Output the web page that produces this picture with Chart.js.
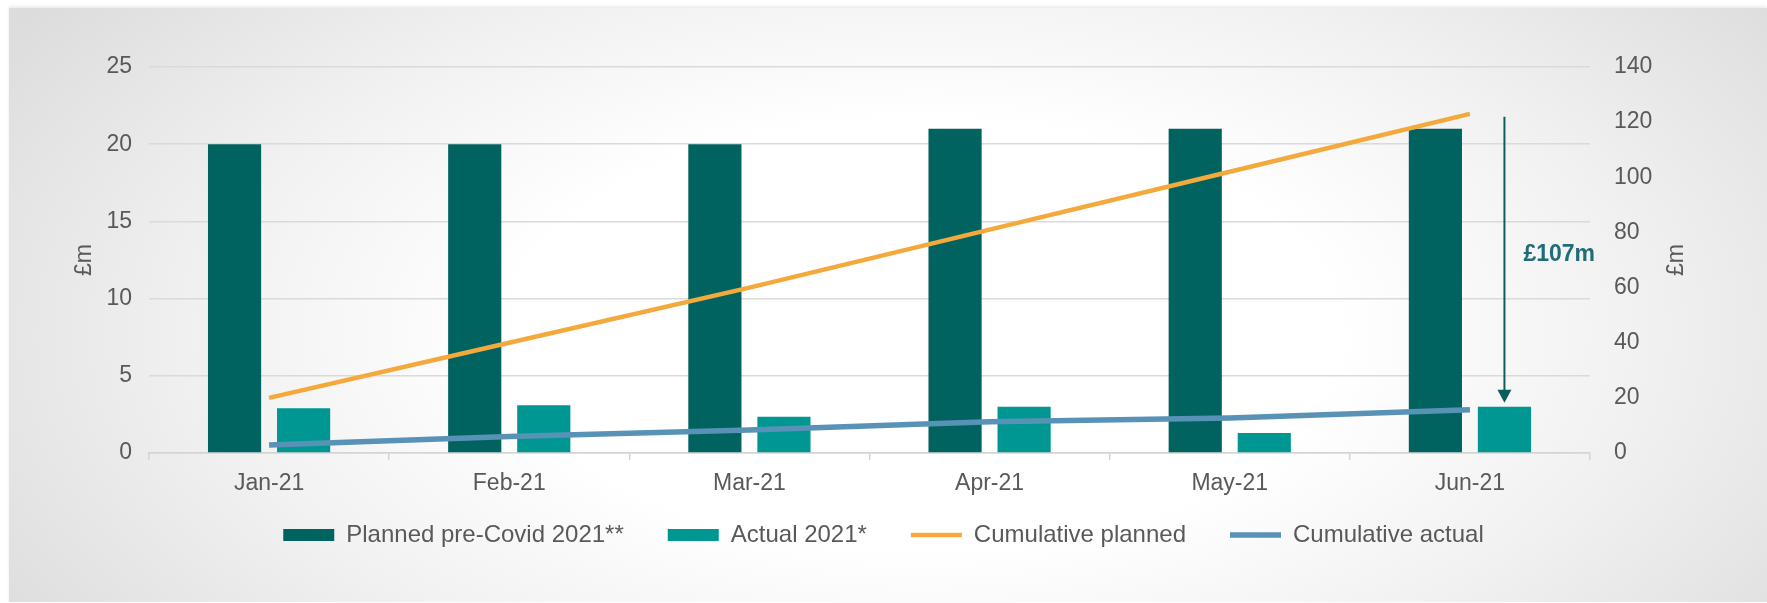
<!DOCTYPE html>
<html>
<head>
<meta charset="utf-8">
<script src="https://cdn.jsdelivr.net/npm/chart.js@4.4.1/dist/chart.umd.min.js"></script>
<style>
  html, body { margin: 0; padding: 0; background: #fff; }
  body { width: 1767px; height: 603px; position: relative; overflow: hidden; }
  .card {
    position: absolute; left: 9px; top: 8px; right: 0; bottom: 1px;
    background: radial-gradient(ellipse 62% 95% at 52% 55%, #ffffff 38%, #f1f1f1 66%, #dcdcdc 100%);
    box-shadow: 0 -2px 3px rgba(0, 0, 0, 0.08);
  }
  canvas { position: absolute; left: 0; top: 0; }
</style>
</head>
<body>
<div class="card"></div>
<canvas id="spendChart" width="1767" height="603"></canvas>
<script>
// Chart data
const months = ['Jan-21', 'Feb-21', 'Mar-21', 'Apr-21', 'May-21', 'Jun-21'];
const plannedPreCovid = [20, 20, 20, 21, 21, 21];
const actual2021 = [2.9, 3.1, 2.35, 3.0, 1.3, 3.0];
const cumulativePlanned = [20, 40, 60, 81, 102, 123];
const cumulativeActual = [2.9, 6.0, 8.35, 11.35, 12.65, 15.65];
const leftAxisTicks = [0, 5, 10, 15, 20, 25];
const rightAxisTicks = [0, 20, 40, 60, 80, 100, 120, 140];

const textColor = '#595959';
const fontFamily = '"Liberation Sans", Arial, sans-serif';

// Arrow showing the gap between cumulative planned and actual, plus right axis title
const gapArrow = {
    id: 'gapArrow',
    afterLayout(chart) {
        // pull the legend row up a little, closer to the month labels
        if (chart.legend) {
            chart.legend.top -= 19;
            chart.legend.bottom -= 19;
        }
    },
    afterDatasetsDraw(chart) {
        const { ctx, chartArea, scales } = chart;
        const last = months.length - 1;
        const bar = chart.getDatasetMeta(1).data[last];
        const x = bar.x;
        const yTop = scales.y2.getPixelForValue(cumulativePlanned[last]) + 3;
        const yTip = bar.y - 4;

        ctx.save();
        ctx.strokeStyle = '#0b5f5b';
        ctx.fillStyle = '#0b5f5b';
        ctx.lineWidth = 2;
        ctx.beginPath();
        ctx.moveTo(x, yTop);
        ctx.lineTo(x, yTip - 12);
        ctx.stroke();
        ctx.beginPath();
        ctx.moveTo(x - 7, yTip - 13);
        ctx.lineTo(x + 7, yTip - 13);
        ctx.lineTo(x, yTip);
        ctx.closePath();
        ctx.fill();

        const gap = Math.round(cumulativePlanned[last] - cumulativeActual[last]);
        ctx.fillStyle = '#1f6d78';
        ctx.font = 'bold 23px ' + fontFamily;
        ctx.textAlign = 'left';
        ctx.textBaseline = 'middle';
        ctx.fillText('£' + gap + 'm', x + 19, (yTop + yTip) / 2 - 5);

        // right axis title reads bottom-to-top like the left one
        ctx.fillStyle = textColor;
        ctx.font = '23px ' + fontFamily;
        ctx.textAlign = 'center';
        ctx.translate(chartArea.right + 87, (chartArea.top + chartArea.bottom) / 2);
        ctx.rotate(-Math.PI / 2);
        ctx.fillText('£m', 0, 0);
        ctx.restore();
    }
};

const legendStyle = {
    'Planned pre-Covid 2021**': 'rect',
    'Actual 2021*': 'rect',
    'Cumulative planned': 'line',
    'Cumulative actual': 'line'
};

new Chart(document.getElementById('spendChart'), {
    type: 'bar',
    data: {
        labels: months,
        datasets: [
            {
                label: 'Planned pre-Covid 2021**',
                data: plannedPreCovid,
                backgroundColor: '#00635f',
                yAxisID: 'y',
                order: 1,
                categoryPercentage: 0.575,
                barPercentage: 0.77
            },
            {
                label: 'Actual 2021*',
                data: actual2021,
                backgroundColor: '#009691',
                yAxisID: 'y',
                order: 1,
                categoryPercentage: 0.575,
                barPercentage: 0.77
            },
            {
                type: 'line',
                label: 'Cumulative planned',
                data: cumulativePlanned,
                borderColor: '#f3a93c',
                backgroundColor: '#f3a93c',
                borderWidth: 4.5,
                pointRadius: 0,
                pointHoverRadius: 0,
                yAxisID: 'y2',
                order: 0
            },
            {
                type: 'line',
                label: 'Cumulative actual',
                data: cumulativeActual,
                borderColor: '#5992b7',
                backgroundColor: '#5992b7',
                borderWidth: 5.5,
                pointRadius: 0,
                pointHoverRadius: 0,
                yAxisID: 'y2',
                order: 0
            }
        ]
    },
    options: {
        responsive: false,
        animation: false,
        devicePixelRatio: 1,
        layout: { padding: { top: 67, bottom: 27, left: 0, right: 0 } },
        scales: {
            x: {
                grid: {
                    display: true,
                    drawOnChartArea: false,
                    drawTicks: true,
                    tickLength: 7,
                    color: '#d4d4d4',
                    lineWidth: 1.5
                },
                border: { display: true, color: '#d4d4d4', width: 1.5 },
                ticks: {
                    color: textColor,
                    font: { size: 23, family: fontFamily },
                    padding: 10
                },
                afterFit(scale) { scale.height = 45; }
            },
            y: {
                position: 'left',
                min: leftAxisTicks[0],
                max: leftAxisTicks[leftAxisTicks.length - 1],
                ticks: {
                    stepSize: leftAxisTicks[1] - leftAxisTicks[0],
                    color: textColor,
                    font: { size: 23, family: fontFamily },
                    padding: 17
                },
                grid: { color: '#dadada', lineWidth: 1.5, drawTicks: false },
                border: { display: false },
                title: {
                    display: true,
                    text: '£m',
                    color: textColor,
                    font: { size: 23, family: fontFamily },
                    padding: { top: 71, bottom: 0 }
                },
                afterFit(scale) { scale.width = 149; }
            },
            y2: {
                position: 'right',
                min: rightAxisTicks[0],
                max: rightAxisTicks[rightAxisTicks.length - 1],
                ticks: {
                    stepSize: rightAxisTicks[1] - rightAxisTicks[0],
                    color: textColor,
                    font: { size: 23, family: fontFamily },
                    padding: 24
                },
                grid: { display: false, drawTicks: false },
                border: { display: false },
                afterFit(scale) { scale.width = 177; }
            }
        },
        plugins: {
            legend: {
                position: 'bottom',
                labels: {
                    usePointStyle: true,
                    pointStyleWidth: 51,
                    boxHeight: 12,
                    padding: 44,
                    color: textColor,
                    font: { size: 24, family: fontFamily },
                    sort: (a, b) => a.datasetIndex - b.datasetIndex,
                    generateLabels(chart) {
                        return chart.data.datasets.map((ds, i) => {
                            const isLine = legendStyle[ds.label] === 'line';
                            return {
                                text: ds.label,
                                datasetIndex: i,
                                fillStyle: ds.backgroundColor,
                                strokeStyle: isLine ? ds.borderColor : ds.backgroundColor,
                                lineWidth: isLine ? ds.borderWidth : 0,
                                pointStyle: legendStyle[ds.label],
                                fontColor: textColor,
                                hidden: false
                            };
                        });
                    }
                }
            },
            tooltip: { enabled: false }
        }
    },
    plugins: [gapArrow]
});
</script>
</body>
</html>
